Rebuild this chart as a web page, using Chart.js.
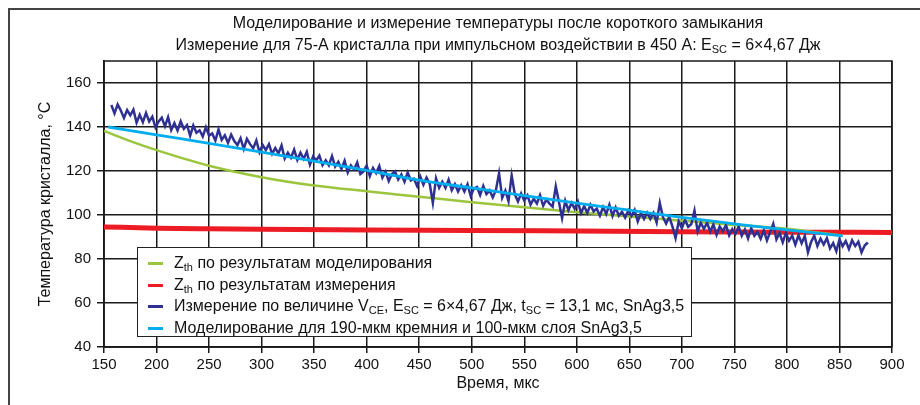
<!DOCTYPE html>
<html>
<head>
<meta charset="utf-8">
<script src="https://cdn.jsdelivr.net/npm/chart.js@4"></script>
<style>
  html, body { margin: 0; padding: 0; background: #fff; }
  #wrap { position: relative; width: 920px; height: 405px; overflow: hidden; font-family: "Liberation Sans", Arial, sans-serif; color: #111; }
  #frame { position: absolute; left: 8px; top: 8px; width: 920px; height: 410px; border-left: 2px solid #444; border-top: 2px solid #444; }
  #chart { position: absolute; left: 0; top: 0; }
  #title { position: absolute; left: 0; top: 12px; width: 996px; text-align: center; font-size: 16px; line-height: 22px; }
  #legend { position: absolute; left: 137px; top: 247px; width: 553px; height: 88px; border: 1.5px solid #222; background: #fff; font-size: 16px; }
  .row { position: absolute; left: 0; height: 20px; line-height: 20px; white-space: nowrap; }
  .row .swatch { position: absolute; left: 10px; top: 9px; width: 15px; height: 3px; }
  .row .txt { position: absolute; left: 36px; top: 0; }
  sub { font-size: 11px; vertical-align: -3px; line-height: 0; }
</style>
</head>
<body>
<div id="wrap">
  <div id="frame"></div>
  <canvas id="chart" width="920" height="405"></canvas>
  <div id="title">
    Моделирование и измерение температуры после короткого замыкания<br>
    Измерение для 75-А кристалла при импульсном воздействии в 450 А: E<sub>SC</sub> = 6×4,67 Дж
  </div>
  <div id="legend"></div>
</div>
<script>
// axis ticks
const xTicks = [150, 200, 250, 300, 350, 400, 450, 500, 550, 600, 650, 700, 750, 800, 850, 900];
const yTicks = [40, 60, 80, 100, 120, 140, 160];

// Z_th simulation (green)
const simTimes = [150, 175, 200, 250, 300, 350, 400, 450, 500, 550, 600, 650, 700, 750, 800, 853];
const simTemps = [138.2, 133.6, 129.5, 122.4, 117.2, 113.4, 110.8, 108.3, 105.8, 103.5, 101.3, 99.3, 97.4, 95.5, 93.8, 90.5];

// Z_th measurement (red)
const zthTimes = [150, 200, 250, 300, 400, 500, 600, 700, 800, 900];
const zthTemps = [94.6, 94.0, 93.7, 93.5, 93.2, 93.0, 92.7, 92.4, 92.2, 92.1];

// V_CE measurement (dark blue), sampled every 3 us from 157 us
const measStart = 157;
const measStep = 3;
const measTemps = [
  150, 146.2, 150.3, 147.5, 144.1, 147.7, 145.3, 147.9, 142, 145.6,
  142.2, 146.4, 142.5, 144.7, 139.8, 142.5, 144.2, 140.3, 144.5, 138.6,
  141.8, 138.4, 142.6, 139.2, 140.9, 136, 140.7, 137.4, 138.5, 135.7,
  139.9, 136, 137.1, 133.8, 138.9, 134.1, 136.2, 132.8, 136.5, 133.6,
  131.8, 134.9, 130, 134.6, 132.2, 130.3, 133.9, 128.5, 131.8, 129.5,
  132.2, 127.8, 130.4, 128, 131.6, 125.7, 128.3, 126, 129.7, 125,
  128.3, 125.5, 128.7, 122.9, 126.6, 124.8, 127, 122.7, 124.9, 122.6,
  126.8, 122, 124.2, 120.9, 124.6, 119.3, 122.5, 120.7, 123.9, 118.6,
  119.8, 122.5, 117.7, 121.4, 119.1, 122.3, 117, 119.7, 115.4, 118.6,
  119.8, 116.1, 118.4, 115.1, 119.4, 115.7, 116.5, 113.2, 117.5, 113.8,
  117, 114.2, 105.5, 116.7, 112.4, 115.1, 112.3, 116.1, 111.3, 114,
  110.7, 113.5, 110.7, 114, 108.7, 112, 112.7, 109, 113.2, 109.5,
  111.2, 108, 111.3, 119, 107.8, 111.1, 106.3, 118, 109.4, 106.1,
  109.8, 106.6, 108.9, 104.7, 107.4, 105.2, 109, 104.2, 107, 105.2,
  103.8, 113, 105.9, 98.5, 106.5, 102.2, 105.5, 102.8, 106.1, 100.9,
  104.1, 100.9, 104.7, 101.6, 102.9, 99.7, 103.6, 100.4, 104.7, 99.6,
  103.4, 99.7, 101.5, 98.8, 102.1, 99.5, 102.3, 97.1, 100.9, 98.2,
  101, 98.2, 100.9, 96.6, 105.5, 99, 96.1, 99.2, 94.8, 89.5,
  97.2, 94, 97.8, 94.6, 95.9, 102, 92.5, 96.4, 93.7, 96.5,
  92.4, 95.7, 91, 94.8, 92.6, 95.4, 90.7, 93.6, 91.4, 94.8,
  90.6, 93.4, 89.3, 94.1, 90.5, 92.3, 89.2, 93, 88.4, 92.2,
  96, 88.9, 91.8, 87.6, 91.9, 88.3, 90.6, 86.5, 90.8, 87.2,
  90.5, 83, 87.7, 90.6, 85.9, 89.3, 86.6, 89.5, 84.8, 87.2,
  83.5, 88.9, 85.8, 88.2, 84.6, 88.5, 85.9, 87.8, 83, 86.1,
  87.5
];

// Simulation for 190 um Si + 100 um SnAg3.5 (light blue)
const modTimes = [154, 200, 250, 300, 350, 400, 450, 500, 550, 600, 650, 700, 750, 800, 853];
const modTemps = [140, 136.4, 132.6, 128.6, 124.5, 120.3, 115.9, 112.3, 108.8, 105.4, 102.2, 98.9, 96.0, 93.2, 90.5];

const legendItems = [
  { color: '#9bc53d', html: 'Z<sub>th</sub> по результатам моделирования' },
  { color: '#ed1c24', html: 'Z<sub>th</sub> по результатам измерения' },
  { color: '#2e3192', html: 'Измерение по величине V<sub>CE</sub>, E<sub>SC</sub> = 6×4,67 Дж, t<sub>SC</sub> = 13,1 мс, SnAg3,5' },
  { color: '#00aeef', html: 'Моделирование для 190-мкм кремния и 100-мкм слоя SnAg3,5' }
];

function toPoints(xs, ys) {
  return ys.map((y, i) => ({ x: xs[i], y: y }));
}

function buildLegend() {
  const box = document.getElementById('legend');
  legendItems.forEach((item, i) => {
    const row = document.createElement('div');
    row.className = 'row';
    row.style.top = (5 + i * 21.5) + 'px';
    row.innerHTML = '<span class="swatch" style="background:' + item.color + '"></span><span class="txt">' + item.html + '</span>';
    box.appendChild(row);
  });
}

// outline of the plot area (top edge has no tick)
const plotFrame = {
  id: 'plotFrame',
  beforeDatasetsDraw(chart) {
    const a = chart.chartArea;
    const ctx = chart.ctx;
    ctx.save();
    ctx.strokeStyle = '#1a1a1a';
    ctx.lineWidth = 1.5;
    ctx.strokeRect(a.left, a.top, a.right - a.left, a.bottom - a.top);
    ctx.restore();
  }
};

const tickFont = { family: '"Liberation Sans", Arial, sans-serif', size: 15 };
const titleFont = { family: '"Liberation Sans", Arial, sans-serif', size: 16 };

const measPoints = measTemps.map((y, i) => ({ x: measStart + i * measStep, y: y }));

new Chart(document.getElementById('chart').getContext('2d'), {
  type: 'line',
  data: {
    datasets: [
      { data: toPoints(modTimes, modTemps), borderColor: '#00aeef', borderWidth: 2.8, tension: 0.4, cubicInterpolationMode: 'monotone', order: 1 },
      { data: measPoints, borderColor: '#2e3192', borderWidth: 2.5, tension: 0, cubicInterpolationMode: 'default', order: 2 },
      { data: toPoints(simTimes, simTemps), borderColor: '#9bc53d', borderWidth: 2.5, tension: 0.4, cubicInterpolationMode: 'monotone', order: 3 },
      { data: toPoints(zthTimes, zthTemps), borderColor: '#ed1c24', borderWidth: 5, tension: 0.4, cubicInterpolationMode: 'monotone', order: 4 }
    ]
  },
  options: {
    responsive: false,
    animation: false,
    devicePixelRatio: 1,
    layout: { padding: { left: 0, top: 61, right: 28, bottom: 0 } },
    elements: { point: { radius: 0 } },
    plugins: { legend: { display: false }, title: { display: false }, tooltip: { enabled: false } },
    scales: {
      x: {
        type: 'linear', min: 150, max: 900,
        afterBuildTicks: s => { s.ticks = xTicks.map(v => ({ value: v })); },
        afterFit: s => { s.height = 58; },
        ticks: { color: '#111', font: tickFont, padding: 3, maxRotation: 0 },
        grid: { color: '#1a1a1a', lineWidth: 1.5, tickLength: 6 },
        border: { color: '#1a1a1a', width: 1.5 },
        title: { display: true, text: 'Время, мкс', color: '#111', font: titleFont, padding: { bottom: 12 } }
      },
      y: {
        type: 'linear', min: 40, max: 170,
        afterBuildTicks: s => { s.ticks = yTicks.map(v => ({ value: v })); },
        afterFit: s => { s.width = 104; },
        ticks: { color: '#111', font: tickFont, padding: 6 },
        grid: { color: '#1a1a1a', lineWidth: 1.5, tickLength: 7 },
        border: { color: '#1a1a1a', width: 1.5 },
        title: { display: true, text: 'Температура кристалла, °C', color: '#111', font: titleFont, padding: { top: 36 } }
      }
    }
  },
  plugins: [plotFrame]
});

buildLegend();
</script>
</body>
</html>
